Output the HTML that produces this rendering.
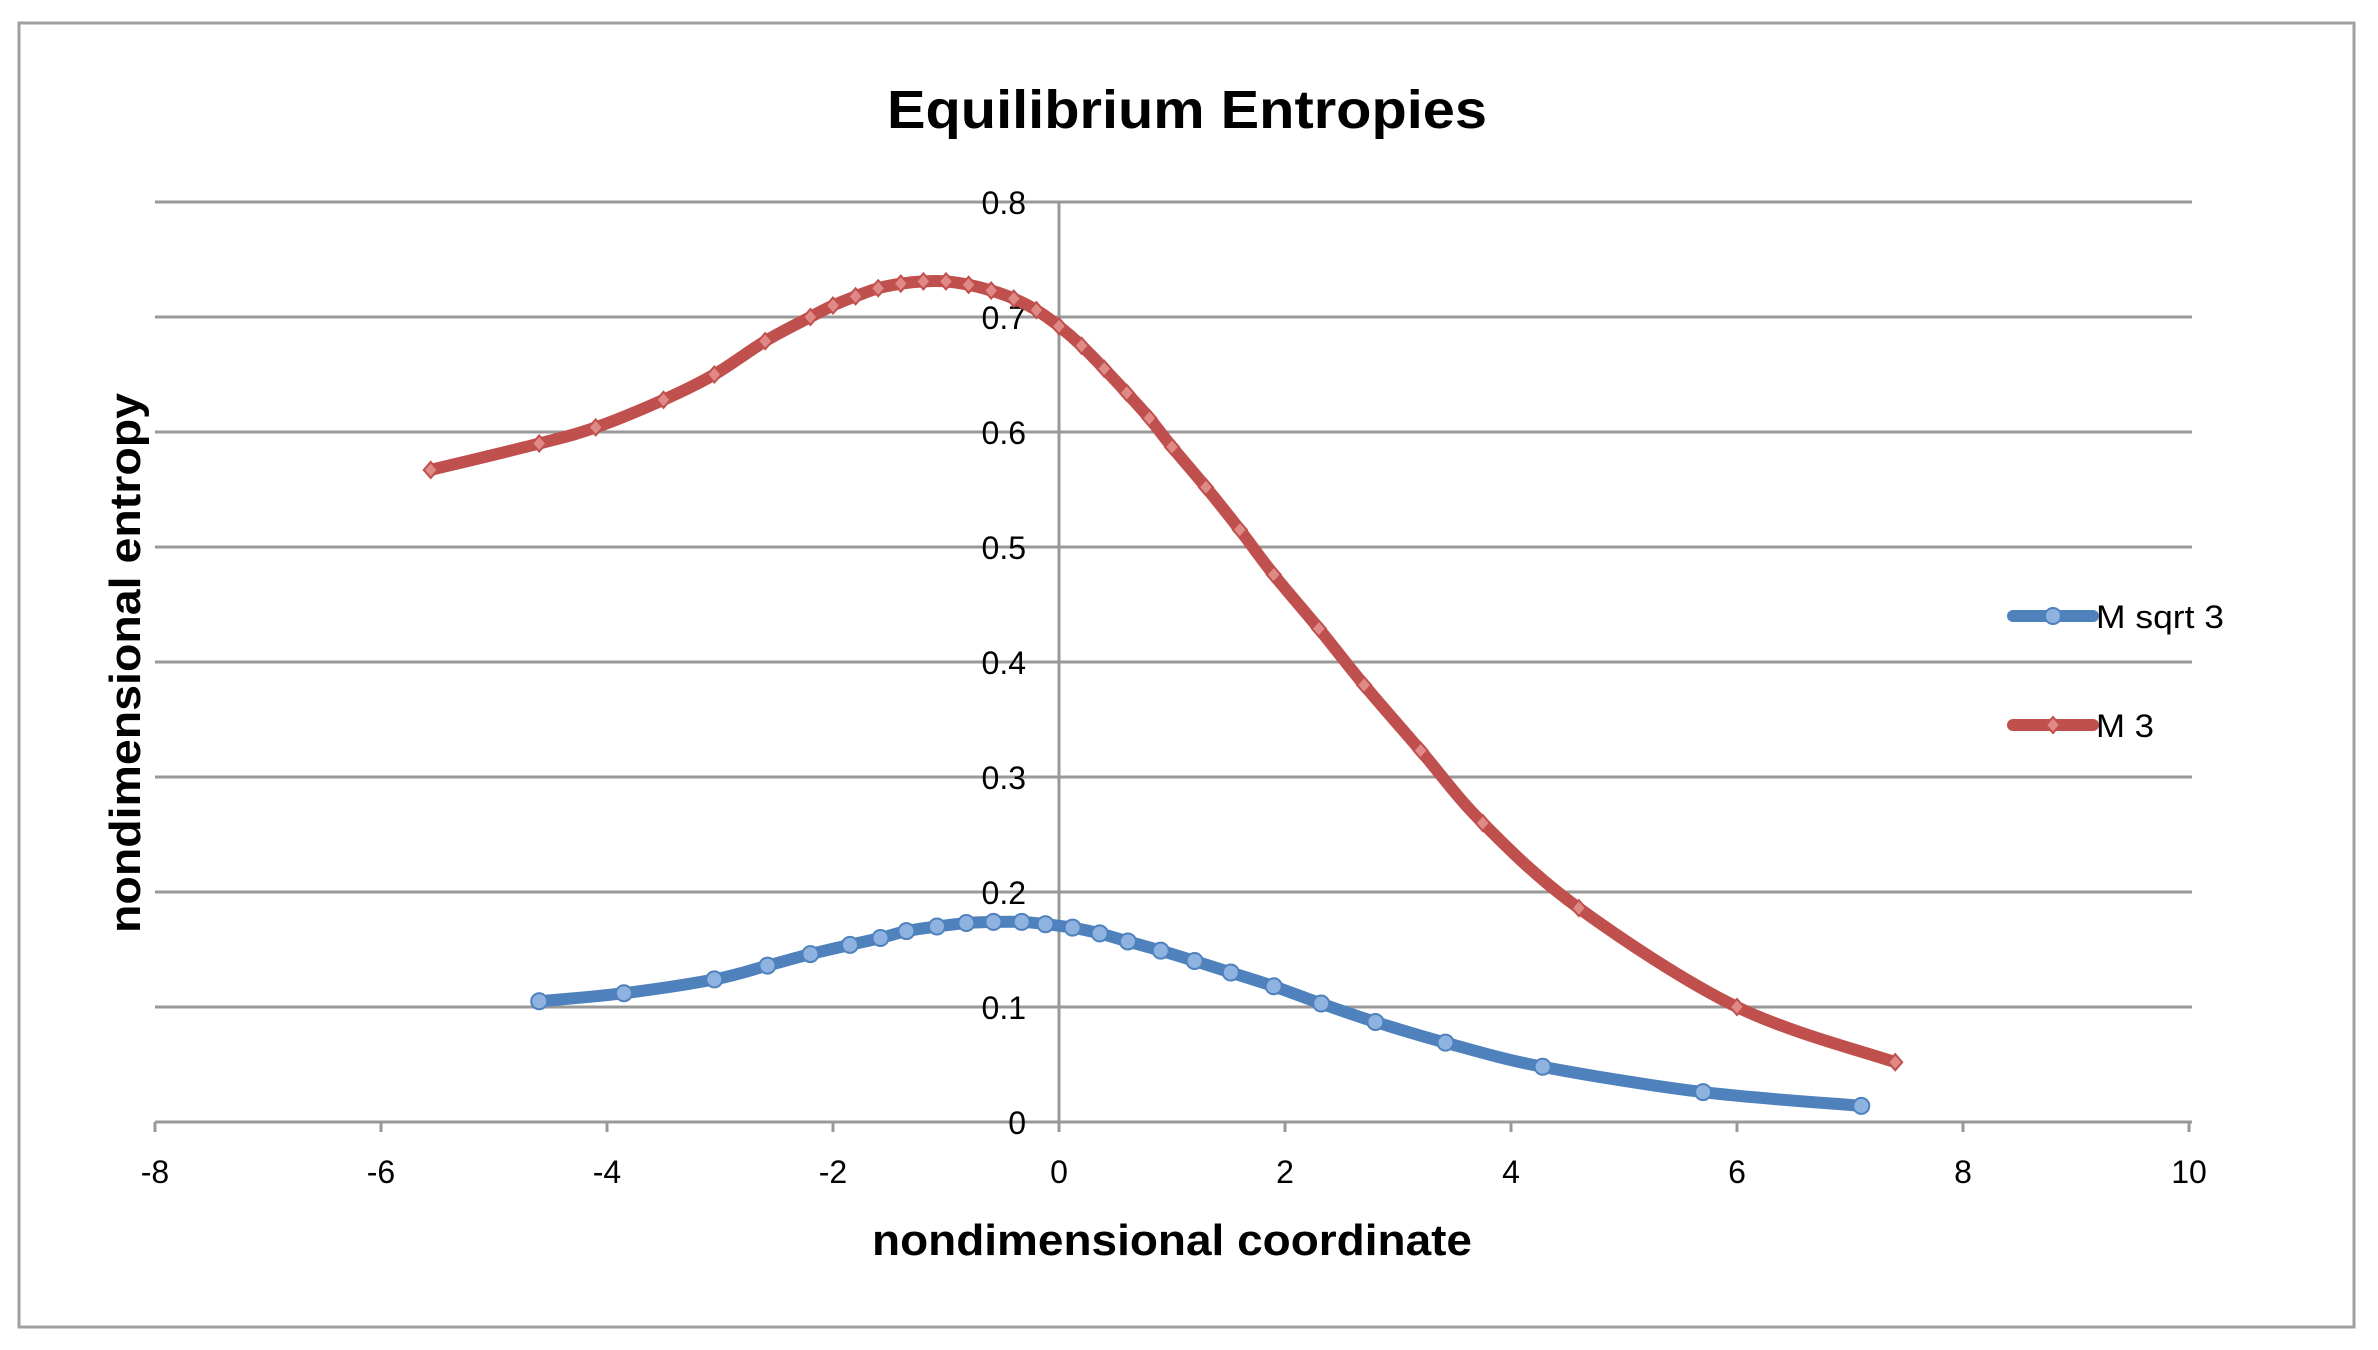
<!DOCTYPE html>
<html><head><meta charset="utf-8"><style>
html,body{margin:0;padding:0;background:#fff;}
svg{display:block;}
text{font-family:"Liberation Sans Narrow","Liberation Sans",sans-serif;}
</style></head><body>
<svg id="c" width="2378" height="1350" xmlns="http://www.w3.org/2000/svg">
<rect x="19" y="23" width="2335" height="1304" fill="#fff" stroke="#a0a0a0" stroke-width="3"/>
<text x="1187" y="128" text-anchor="middle" font-size="54" font-weight="bold" textLength="600" lengthAdjust="spacingAndGlyphs">Equilibrium Entropies</text>
<g id="grid" stroke="#999" stroke-width="3"></g>
<g id="ticks" font-size="32" fill="#000"></g>
<text x="1172" y="1255" text-anchor="middle" font-size="44" font-weight="bold" textLength="600" lengthAdjust="spacingAndGlyphs">nondimensional coordinate</text>
<text transform="translate(140,663) rotate(-90)" text-anchor="middle" font-size="44" font-weight="bold" textLength="540" lengthAdjust="spacingAndGlyphs">nondimensional entropy</text>
<g id="series"></g>
<line x1="2013" y1="616" x2="2093" y2="616" stroke="#4F81BD" stroke-width="12" stroke-linecap="round"/>
<circle cx="2053" cy="616" r="8" fill="#8FB3E0" stroke="#4F81BD" stroke-width="2"/>
<text x="2096" y="628" font-size="32" textLength="128" lengthAdjust="spacingAndGlyphs">M sqrt 3</text>
<line x1="2013" y1="725" x2="2093" y2="725" stroke="#C0504D" stroke-width="12" stroke-linecap="round"/>
<path d="M2053 717 L2060 725 L2053 733 L2046 725Z" fill="#E08A87" stroke="#C0504D" stroke-width="2"/>
<text x="2096" y="737" font-size="32" textLength="58" lengthAdjust="spacingAndGlyphs">M 3</text>
</svg>
<script>
var NS="http://www.w3.org/2000/svg";
function X(v){return 1059+v*113;} function Y(v){return 1122-v*1150;}
function el(t,a,p){var e=document.createElementNS(NS,t);for(var k in a)e.setAttribute(k,a[k]);p.appendChild(e);return e;}
var g=document.getElementById('grid'),tk=document.getElementById('ticks'),s=document.getElementById('series');
for(var i=1;i<=8;i++){el('line',{x1:155,x2:2192,y1:Y(i/10),y2:Y(i/10)},g);}
el('line',{x1:155,x2:2192,y1:1122,y2:1122},g);
el('line',{x1:1059,x2:1059,y1:Y(0.8),y2:1132},g);
for(var v=-8;v<=10;v+=2){el('line',{x1:X(v),x2:X(v),y1:1122,y2:1132},g);
 var t=el('text',{x:X(v),y:1183,'text-anchor':'middle'},tk);t.textContent=v;}
for(var i=0;i<=8;i++){var t=el('text',{x:1026,y:Y(i/10)+12,'text-anchor':'end'},tk);t.textContent=i==0?'0':(i/10).toString();}
var red=[[-5.56,0.567],[-4.6,0.59],[-4.1,0.604],[-3.5,0.628],[-3.05,0.65],[-2.6,0.679],[-2.2,0.70],[-2.0,0.71],[-1.8,0.718],[-1.6,0.725],[-1.4,0.729],[-1.2,0.731],[-1.0,0.731],[-0.8,0.728],[-0.6,0.723],[-0.4,0.716],[-0.2,0.706],[0,0.692],[0.2,0.675],[0.4,0.655],[0.6,0.634],[0.8,0.612],[1.0,0.587],[1.3,0.552],[1.6,0.515],[1.9,0.476],[2.3,0.429],[2.7,0.38],[3.2,0.323],[3.75,0.26],[4.6,0.186],[6.0,0.1],[7.4,0.052]];
var blue=[[-4.6,0.105],[-3.85,0.112],[-3.05,0.124],[-2.58,0.136],[-2.2,0.146],[-1.85,0.154],[-1.58,0.160],[-1.35,0.166],[-1.08,0.170],[-0.82,0.173],[-0.58,0.174],[-0.33,0.174],[-0.12,0.172],[0.12,0.169],[0.36,0.164],[0.61,0.157],[0.9,0.149],[1.2,0.14],[1.52,0.13],[1.9,0.118],[2.32,0.103],[2.8,0.087],[3.42,0.069],[4.28,0.048],[5.7,0.026],[7.1,0.014]];
function smooth(p){var q=p.map(function(a){return [X(a[0]),Y(a[1])];});var d='M'+q[0][0]+' '+q[0][1];
 for(var i=0;i<q.length-1;i++){var p0=q[i-1]||q[i],p1=q[i],p2=q[i+1],p3=q[i+2]||p2;
  d+=' C'+(p1[0]+(p2[0]-p0[0])/6)+' '+(p1[1]+(p2[1]-p0[1])/6)+' '+(p2[0]-(p3[0]-p1[0])/6)+' '+(p2[1]-(p3[1]-p1[1])/6)+' '+p2[0]+' '+p2[1];}
 return d;}
el('path',{d:smooth(blue),fill:'none',stroke:'#4F81BD','stroke-width':12,'stroke-linejoin':'round'},s);
blue.forEach(function(a){el('circle',{cx:X(a[0]),cy:Y(a[1]),r:8,fill:'#8FB3E0',stroke:'#4F81BD','stroke-width':2},s);});
el('path',{d:smooth(red),fill:'none',stroke:'#C0504D','stroke-width':12,'stroke-linejoin':'round'},s);
red.forEach(function(a){var x=X(a[0]),y=Y(a[1]);el('path',{d:'M'+x+' '+(y-8)+' L'+(x+7)+' '+y+' L'+x+' '+(y+8)+' L'+(x-7)+' '+y+'Z',fill:'#E08A87',stroke:'#C0504D','stroke-width':2},s);});
</script>
</body></html>
